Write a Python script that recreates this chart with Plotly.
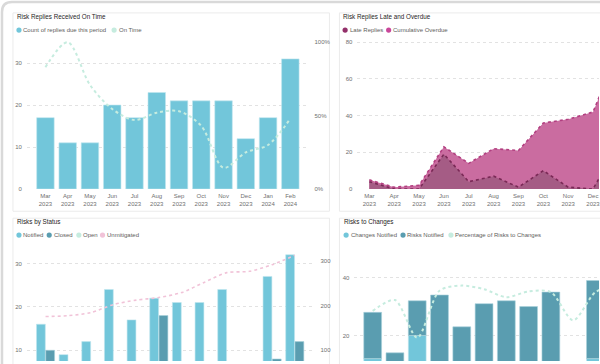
import plotly.graph_objects as go

W, H = 600, 364


def px(x):
    return x / W


def py(y):
    return 1 - y / H


# ---------------- data ----------------
tick_labels = ["Mar<br>2023", "Apr<br>2023", "May<br>2023", "Jun<br>2023", "Jul<br>2023",
               "Aug<br>2023", "Sep<br>2023", "Oct<br>2023", "Nov<br>2023", "Dec<br>2023",
               "Jan<br>2024", "Feb<br>2024"]

replies_due = [17, 11, 11, 20, 17, 23, 21, 21, 21, 12, 17, 31]
on_time_pct = [0.83, 1.00, 0.71, 0.545, 0.47, 0.52, 0.53, 0.43, 0.145, 0.25, 0.30, 0.48]

late_replies = [4, 0, 0, 19, 4, 7, 1, 10, 1, 0, 24, 10]
cumulative_overdue = [5, 1, 2, 23, 14, 22, 21, 36, 38, 42, 75, 70]

notified = [16, 9, 12, 24, 17, 22, 21, 21, 24, 5, 27, 32]
closed = [10, 3, 5, 6, 4, 18, 5, 6, 3, 2, 8, 12]
unmitigated = [175, 177, 184, 202, 212, 218, 229, 252, 274, 277, 292, 313]

changes_notified = [12, 5, 20, 10, 6, 9, 11, 9, 11, 4, 12, 10]
risks_notified = [16, 9, 12, 24, 17, 22, 21, 21, 24, 5, 27, 32]
pct_risks_to_changes = [0.57, 0.645, 0.385, 0.71, 0.745, 0.72, 0.665, 0.705, 0.70, 0.505, 0.70, 0.75]

# ---------------- style ----------------
FONT = "Liberation Sans"
C_LIGHT = "#72c6da"
C_DARK = "#5a9db0"
C_MINT = "#c6ecdf"
C_PINK = "#f1c3d8"
C_LATE = "#93306a"
C_CUM = "#c9479a"
TICK = dict(family=FONT, size=6, color="#707070")
GRID = "#e2e2e2"

fig = go.Figure()

# ---- Panel 1: Risk Replies Received On Time ----
fig.add_trace(go.Bar(x=tick_labels, y=replies_due, name="Count of replies due this period",
                     marker=dict(color=C_LIGHT, line=dict(color="#bfe6ef", width=0.6)),
                     width=0.785, xaxis="x", yaxis="y", showlegend=False))
fig.add_trace(go.Scatter(x=tick_labels, y=on_time_pct, name="On Time", mode="lines",
                         line=dict(color=C_MINT, width=2, dash="dot", shape="spline", smoothing=0.9),
                         xaxis="x", yaxis="y2", showlegend=False))

# ---- Panel 2: Risk Replies Late and Overdue ----
fig.add_trace(go.Scatter(x=tick_labels, y=cumulative_overdue, name="Cumulative Overdue", mode="lines",
                         fill="tozeroy", fillcolor="#ca6ca0",
                         line=dict(color="#b23f80", width=1.6, dash="dot"),
                         xaxis="x2", yaxis="y3", showlegend=False))
fig.add_trace(go.Scatter(x=tick_labels, y=late_replies, name="Late Replies", mode="lines",
                         fill="tozeroy", fillcolor="#a55c85",
                         line=dict(color="#7a2956", width=1.6, dash="dot"),
                         xaxis="x2", yaxis="y3", showlegend=False))

# ---- Panel 3: Risks by Status ----
fig.add_trace(go.Bar(x=tick_labels, y=notified, name="Notified",
                     marker=dict(color=C_LIGHT, line=dict(color="#bfe6ef", width=0.6)),
                     width=0.39, offset=-0.4, xaxis="x3", yaxis="y4", showlegend=False))
fig.add_trace(go.Bar(x=tick_labels, y=closed, name="Closed",
                     marker=dict(color=C_DARK, line=dict(color="#a9d2dc", width=0.6)),
                     width=0.39, offset=0.01, xaxis="x3", yaxis="y4", showlegend=False))
fig.add_trace(go.Scatter(x=tick_labels, y=unmitigated, name="Unmitigated", mode="lines",
                         line=dict(color=C_PINK, width=1.6, dash="dot", shape="spline", smoothing=0.8),
                         xaxis="x3", yaxis="y5", showlegend=False))

# ---- Panel 4: Risks to Changes ----
fig.add_trace(go.Bar(x=tick_labels, y=changes_notified, name="Changes Notified",
                     marker=dict(color=C_LIGHT, line=dict(color="#bfe6ef", width=0.6)),
                     width=0.8, xaxis="x4", yaxis="y6", showlegend=False))
fig.add_trace(go.Bar(x=tick_labels, y=risks_notified, base=changes_notified, name="Risks Notified",
                     marker=dict(color=C_DARK, line=dict(color="#a9d2dc", width=0.6)),
                     width=0.8, xaxis="x4", yaxis="y6", showlegend=False))
fig.add_trace(go.Scatter(x=tick_labels, y=pct_risks_to_changes, name="Percentage of Risks to Changes",
                         mode="lines",
                         line=dict(color=C_MINT, width=2, dash="dot", shape="spline", smoothing=0.8),
                         xaxis="x4", yaxis="y7", showlegend=False))

# ---------------- axes ----------------
cat = dict(type="category", categoryorder="array", categoryarray=tick_labels,
           showgrid=False, zeroline=False, showline=False, ticks="", tickfont=TICK,
           ticklabelstandoff=2)
yax = dict(showgrid=True, gridcolor=GRID, griddash="dot", gridwidth=1, zeroline=False,
           showline=False, ticks="", tickfont=TICK)

top12 = 40.0
fig.update_layout(
    xaxis=dict(cat, domain=[px(27), px(310)], range=[-0.83, 11.86], anchor="y"),
    yaxis=dict(yax, domain=[py(190.6), py(top12)], range=[0, (190.6 - top12) / 4.233],
               tickvals=[0, 10, 20, 30], anchor="x", ticklabelstandoff=4),
    yaxis2=dict(yax, overlaying="y", side="right", anchor="x", showgrid=False,
                range=[0, (190.6 - top12) / 148.0], tickvals=[0, 0.5, 1.0],
                ticktext=["0%", "50%", "100%"], ticklabelstandoff=4),
    xaxis2=dict(cat, domain=[px(358), 1.0], range=[-0.48, 9.24], anchor="y3"),
    yaxis3=dict(yax, domain=[py(190.6), py(top12)], range=[0, (190.6 - top12) / 1.85],
                tickvals=[0, 20, 40, 60, 80], anchor="x2", ticklabelstandoff=4),
    xaxis3=dict(cat, domain=[px(27), px(315)], range=[-0.82, 11.87], anchor="y4",
                showticklabels=False),
    yaxis4=dict(yax, domain=[0, py(251)], range=[(397 - 364) / 4.38, (397 - 251) / 4.38],
                tickvals=[10, 20, 30], anchor="x3", ticklabelstandoff=4),
    yaxis5=dict(yax, overlaying="y4", side="right", anchor="x3", showgrid=False,
                range=[(397.4 - 364) / 0.447, (397.4 - 251) / 0.447],
                tickvals=[100, 200, 300], ticklabelstandoff=5),
    xaxis4=dict(cat, domain=[px(355), 1.0], range=[-0.82, 10.16], anchor="y6",
                showticklabels=False),
    yaxis6=dict(yax, domain=[0, py(250.8)], range=[(396.6 - 364) / 2.917, 50],
                tickvals=[20, 40], anchor="x4", ticklabelstandoff=4),
    yaxis7=dict(yax, overlaying="y6", side="right", anchor="x4", showgrid=False,
                showticklabels=False, range=[(396.6 - 364) / 145.8, 1.0]),
)

# ---------------- cards / frame ----------------
shapes = []


def card(x0, y0, x1, y1):
    shapes.append(dict(type="rect", xref="paper", yref="paper", layer="below",
                       x0=px(x0), x1=px(x1), y0=py(y1), y1=py(y0),
                       line=dict(color="#ebebeb", width=1), fillcolor="white"))


# outer rounded frame (top-left corner visible)
r = 10
path = (f"M {px(2)},{py(380)} L {px(2)},{py(2 + r)} "
        f"Q {px(2)},{py(2)} {px(2 + r)},{py(2)} L {px(620)},{py(2)}")
shapes.append(dict(type="path", xref="paper", yref="paper", layer="below", path=path,
                   line=dict(color="#d9d9d9", width=2.5)))
card(13, 13, 330, 213)
card(340, 13, 640, 213)
card(13, 220, 330, 400)
card(340, 220, 640, 400)

annotations = []


def title(text, x, y):
    annotations.append(dict(text=text, x=px(x), y=py(y), xref="paper", yref="paper",
                            xanchor="left", yanchor="middle", showarrow=False,
                            font=dict(family=FONT, size=6.3, color="#252423")))


def legend_item(text, color, cx, cy):
    rr = 2.6
    shapes.append(dict(type="circle", xref="paper", yref="paper",
                       x0=px(cx - rr), x1=px(cx + rr), y0=py(cy + rr), y1=py(cy - rr),
                       fillcolor=color, line=dict(width=0)))
    annotations.append(dict(text=text, x=px(cx + 2.4), y=py(cy), xref="paper", yref="paper",
                            xanchor="left", yanchor="middle", showarrow=False,
                            font=dict(family=FONT, size=6.0, color="#605e5c")))


title("Risk Replies Received On Time", 15, 17.3)
legend_item("Count of replies due this period", C_LIGHT, 19, 30.3)
legend_item("On Time", C_MINT, 114.3, 30.3)

title("Risk Replies Late and Overdue", 342, 17.3)
legend_item("Late Replies", C_LATE, 345.7, 30.3)
legend_item("Cumulative Overdue", C_CUM, 389.3, 30.3)

title("Risks by Status", 15, 224)
legend_item("Notified", C_LIGHT, 19, 237)
legend_item("Closed", C_DARK, 49.3, 237)
legend_item("Open", C_MINT, 79, 237)
legend_item("Unmitigated", C_PINK, 102.7, 237)

title("Risks to Changes", 343, 224)
legend_item("Changes Notified", C_LIGHT, 346.7, 237)
legend_item("Risks Notified", C_DARK, 403.7, 237)
legend_item("Percentage of Risks to Changes", C_MINT, 451.7, 237)

fig.update_layout(
    width=W, height=H, margin=dict(l=0, r=0, t=0, b=0),
    paper_bgcolor="white", plot_bgcolor="rgba(0,0,0,0)",
    barmode="overlay", showlegend=False, hovermode=False,
    shapes=shapes, annotations=annotations,
    font=dict(family=FONT, size=6, color="#777777"),
)

fig.write_html("out.html", config={"displayModeBar": False, "staticPlot": True},
               post_script="document.body.style.margin='0';document.body.style.overflow='hidden';")
